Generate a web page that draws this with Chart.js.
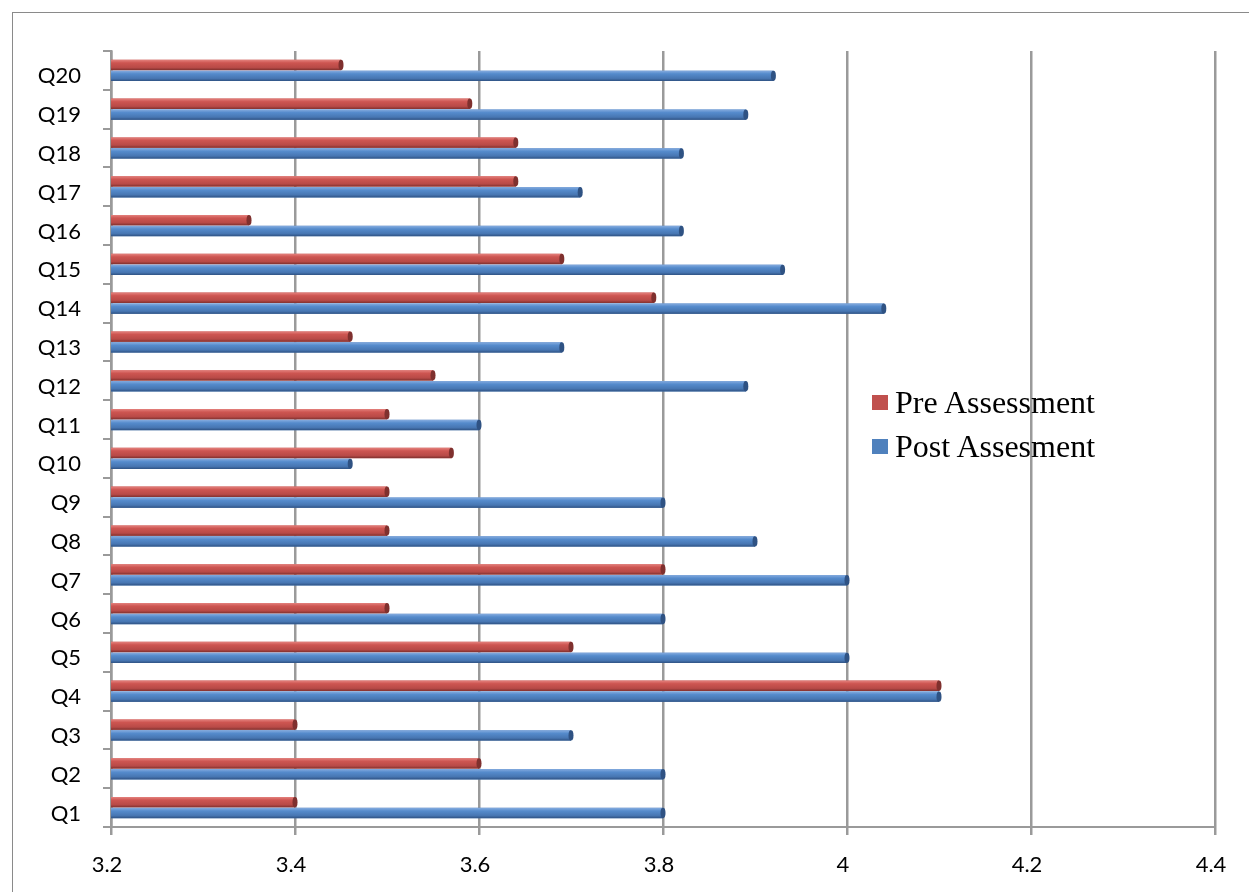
<!DOCTYPE html>
<html>
<head>
<meta charset="utf-8">
<title>Pre / Post Assessment</title>
<script src="https://cdn.jsdelivr.net/npm/chart.js@4.4.1/dist/chart.umd.min.js"></script>
<style>
  html, body { margin: 0; padding: 0; background: #fff; overflow: hidden; }
  #wrap { position: relative; width: 1249px; height: 892px; overflow: hidden; }
  #frame { position: absolute; left: 12px; top: 12px; width: 1300px; height: 1000px; border: 1.5px solid #8a8a8a; }
  #chart { position: absolute; left: 0; top: 0; }
  #legend { position: absolute; left: 872px; top: 386px; font-family: "Liberation Serif", "Times New Roman", serif; font-size: 32px; color: #000; }
  .row { display: flex; align-items: center; height: 32px; margin-bottom: 12px; white-space: nowrap; }
  .sw { width: 16px; height: 15px; margin-right: 7px; }
</style>
</head>
<body>
<div id="wrap">
  <div id="frame"></div>
  <canvas id="chart" width="1249" height="892"></canvas>
  <div id="legend"></div>
</div>
<script>
// --- datos ---
const categories = ['Q1', 'Q2', 'Q3', 'Q4', 'Q5', 'Q6', 'Q7', 'Q8', 'Q9', 'Q10',
                    'Q11', 'Q12', 'Q13', 'Q14', 'Q15', 'Q16', 'Q17', 'Q18', 'Q19', 'Q20'];
const preAssessment  = [3.40, 3.60, 3.40, 4.10, 3.70, 3.50, 3.80, 3.50, 3.50, 3.57,
                        3.50, 3.55, 3.46, 3.79, 3.69, 3.35, 3.64, 3.64, 3.59, 3.45];
const postAssessment = [3.80, 3.80, 3.70, 4.10, 4.00, 3.80, 4.00, 3.90, 3.80, 3.46,
                        3.60, 3.89, 3.69, 4.04, 3.93, 3.82, 3.71, 3.82, 3.89, 3.92];
const seriesNames = ['Pre Assessment', 'Post Assesment'];
const xTickLabels = ['3.2', '3.4', '3.6', '3.8', '4', '4.2', '4.4'];

const RED = '#c0504d';
const BLUE = '#4f81bd';
const GRID = '#9a9a9a';

// sombreado tipo cilindro encima de cada barra (recortado al área del gráfico)
const barShading = {
  id: 'barShading',
  afterDatasetsDraw(chart) {
    const ctx = chart.ctx;
    const area = chart.chartArea;
    ctx.save();
    ctx.beginPath();
    ctx.rect(area.left, area.top, area.right - area.left, area.bottom - area.top);
    ctx.clip();
    chart.data.datasets.forEach((ds, di) => {
      const meta = chart.getDatasetMeta(di);
      meta.data.forEach(bar => {
        const { x, y, base, height } = bar.getProps(['x', 'y', 'base', 'height'], true);
        const top = y - height / 2;
        const g = ctx.createLinearGradient(0, top, 0, top + height);
        g.addColorStop(0, ds.shade[0]);
        g.addColorStop(0.3, ds.shade[1]);
        g.addColorStop(0.75, ds.shade[2]);
        g.addColorStop(1, ds.shade[3]);
        ctx.fillStyle = g;
        ctx.fillRect(base, top, x - base, height);
        // tapa del extremo
        ctx.beginPath();
        ctx.ellipse(x, y, 2.5, height / 2, 0, 0, Math.PI * 2);
        ctx.fillStyle = ds.shade[3];
        ctx.fill();
      });
    });
    ctx.restore();
  }
};

const tickFont = { family: 'Lato', size: 22 };

const chart = new Chart(document.getElementById('chart'), {
  type: 'bar',
  data: {
    labels: categories,
    datasets: [
      {
        label: seriesNames[0],
        data: preAssessment,
        backgroundColor: RED,
        shade: ['#e4817d', '#cd5551', '#b84a47', '#7f302e'],
        categoryPercentage: 0.56,
        barPercentage: 0.95
      },
      {
        label: seriesNames[1],
        data: postAssessment,
        backgroundColor: BLUE,
        shade: ['#86acdf', '#558bcc', '#4776b2', '#2f5283'],
        categoryPercentage: 0.56,
        barPercentage: 0.95
      }
    ]
  },
  options: {
    indexAxis: 'y',
    responsive: false,
    animation: false,
    layout: { padding: { top: 51, right: 34, left: 0, bottom: 0 } },
    plugins: {
      legend: { display: false },
      tooltip: { enabled: false }
    },
    scales: {
      x: {
        type: 'linear',
        min: 3.2,
        max: 4.4,
        ticks: {
          stepSize: 0.2,
          color: '#000',
          font: tickFont,
          padding: 17,
          labelOffset: -4,
          callback: (v, i) => xTickLabels[i]
        },
        grid: { color: GRID, lineWidth: 2.5, tickLength: 8 },
        border: { display: true, color: GRID, width: 2 },
        afterFit: (scale) => { scale.height = 65; }
      },
      y: {
        type: 'category',
        reverse: true,
        ticks: { color: '#000', font: tickFont, padding: 22, labelOffset: 6 },
        grid: { drawOnChartArea: false, color: GRID, lineWidth: 2, tickLength: 8 },
        border: { display: true, color: GRID, width: 2.5 },
        afterFit: (scale) => { scale.width = 111; }
      }
    }
  },
  plugins: [barShading]
});

// --- leyenda en HTML ---
const legendEl = document.getElementById('legend');
legendEl.innerHTML = chart.data.datasets.map(ds =>
  `<div class="row"><span class="sw" style="background:${ds.backgroundColor}"></span>${ds.label}</div>`
).join('');
</script>
</body>
</html>
